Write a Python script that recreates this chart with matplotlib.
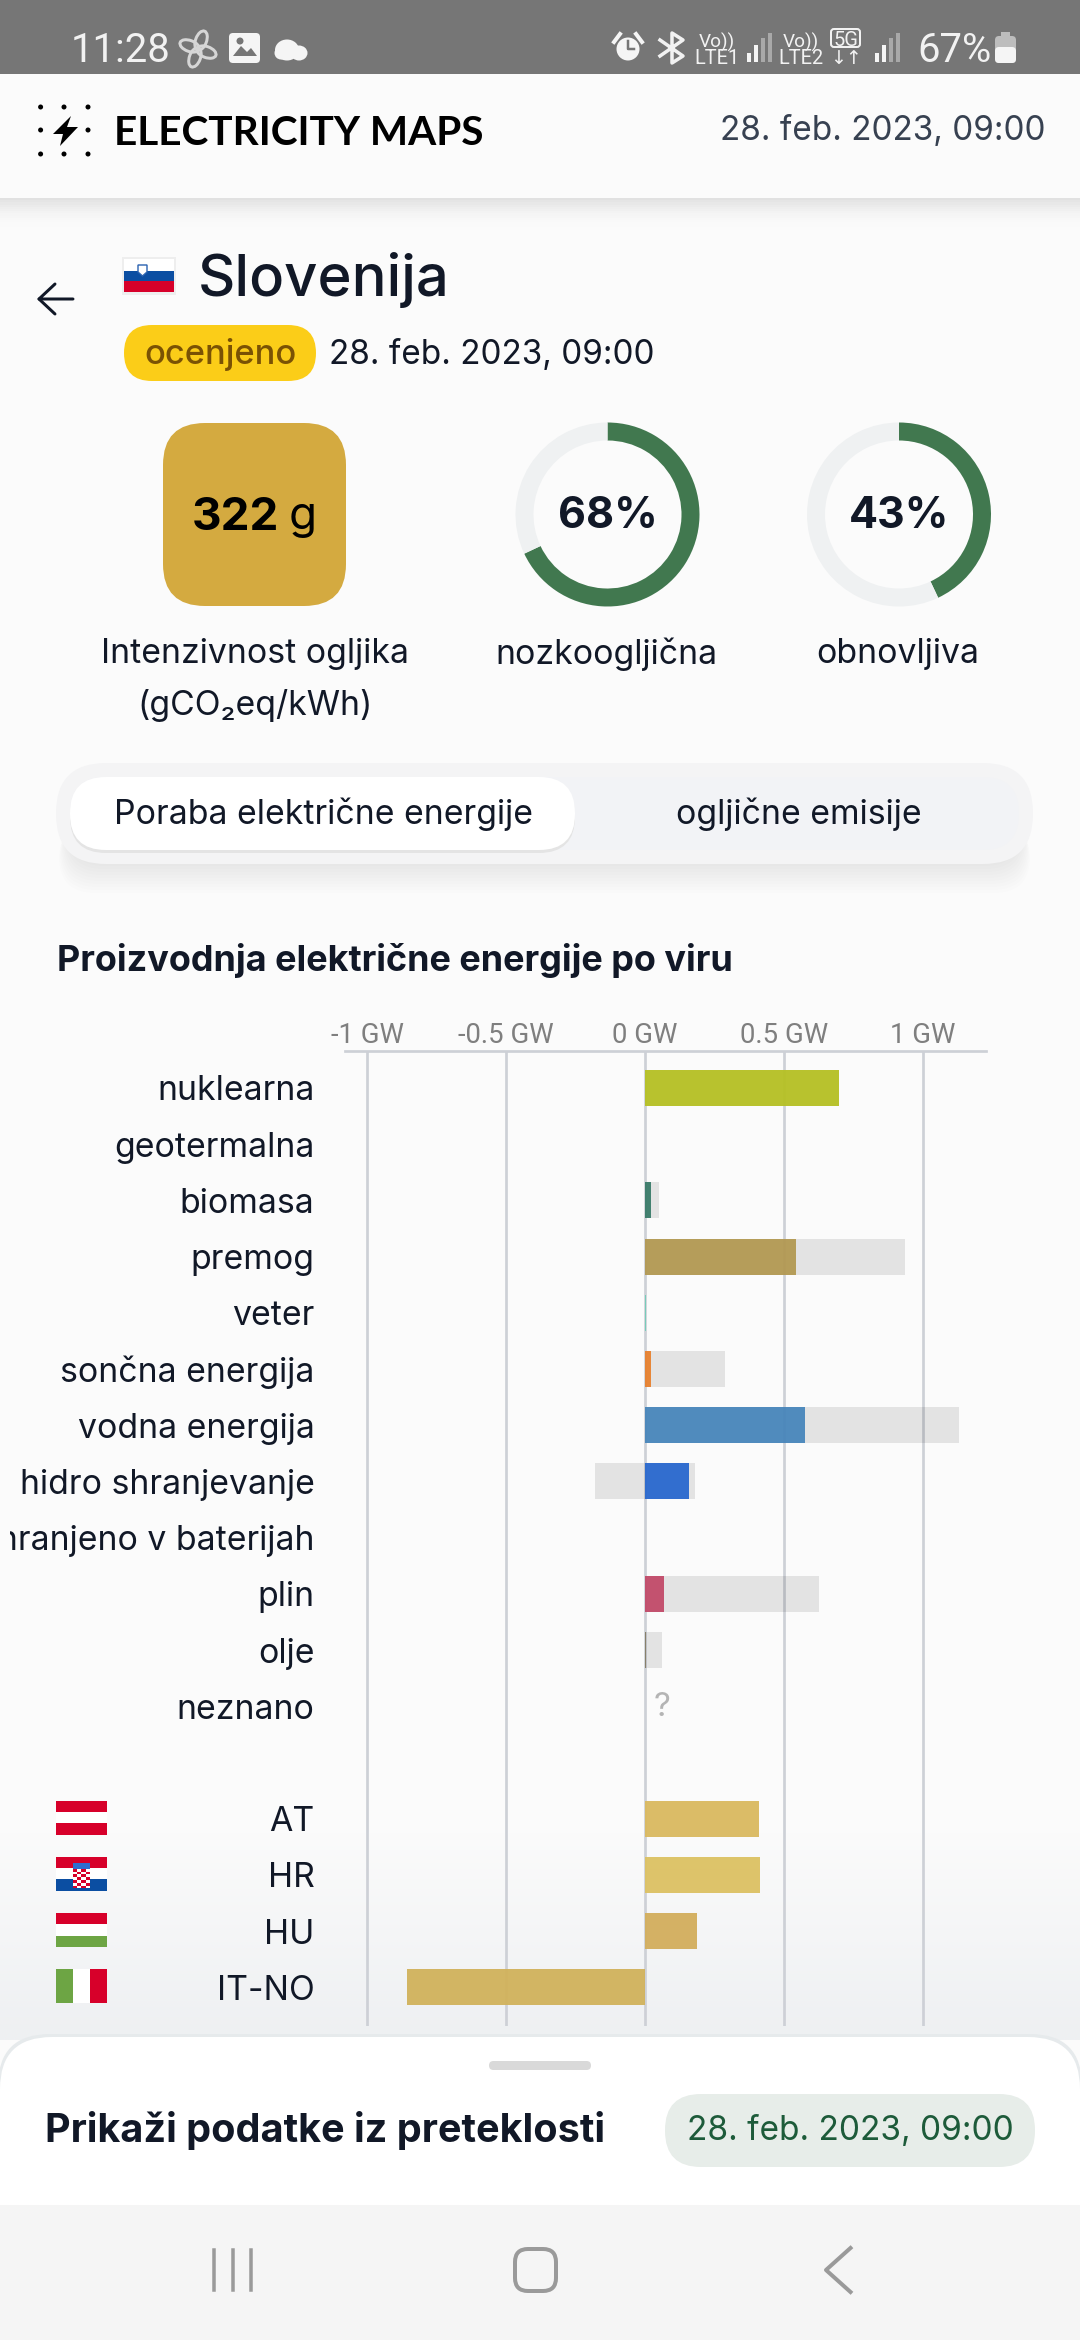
import numpy as np
import matplotlib
matplotlib.use('Agg')
import matplotlib.pyplot as plt
from matplotlib.patches import FancyBboxPatch, Rectangle, Ellipse, Polygon
from matplotlib.transforms import Bbox

plt.rcParams['font.family'] = ['Inter', 'DejaVu Sans']

# Proizvodnja po viru [GW]
sources = ['nuklearna', 'geotermalna', 'biomasa', 'premog', 'veter', 'sončna energija',
           'vodna energija', 'hidro shranjevanje', 'shranjeno v baterijah', 'plin', 'olje', 'neznano']
production = [0.697, 0, 0.021, 0.543, 0.003, 0.021, 0.575, 0.157, 0, 0.069, 0.002, 0]
capacity_pos = [0.697, 0, 0.05, 0.935, 0.003, 0.287, 1.129, 0.18, 0, 0.627, 0.062, 0]
capacity_neg = [0, 0, 0, 0, 0, 0, 0, -0.18, 0, 0, 0, 0]
source_colors = ['#b6c124', '#ffffff', '#3a7c6a', '#b39953', '#74cdb9', '#e8812f',
                 '#4886bb', '#2868ce', '#ffffff', '#c24a69', '#867d66', '#ffffff']

# Izmenjava s sosedi [GW]
zones = ['AT', 'HR', 'HU', 'IT-NO']
exchange = [0.411, 0.414, 0.188, -0.855]
zone_colors = ['#dab95f', '#dcc162', '#d3ae5c', '#d1b25b']

xticks = [-1, -0.5, 0, 0.5, 1]
xtick_labels = ['-1 GW', '-0.5 GW', '0 GW', '0.5 GW', '1 GW']

date_text = '28. feb. 2023, 09:00'
low_carbon = [68, 32]
renewable = [43, 57]

DARK = '#111827'
BG = '#fbfbfb'
W, H = 1080, 2340


def pt(px):
    return px * 0.72


fig = plt.figure(figsize=(10.8, 23.4), dpi=100, facecolor=BG)

# Ozadje in vsi elementi vmesnika v pikslih
ui = fig.add_axes([0, 0, 1, 1], zorder=1)
ui.set_xlim(0, W)
ui.set_ylim(H, 0)
ui.axis('off')


def box(x0, y0, x1, y1, r, color, z=2, alpha=1, ec='none', lw=0):
    p = FancyBboxPatch((x0 + r, y0 + r), x1 - x0 - 2 * r, y1 - y0 - 2 * r,
                       boxstyle='round,pad=%f,rounding_size=%f' % (r, r),
                       fc=color, ec=ec, lw=lw, alpha=alpha, zorder=z)
    ui.add_patch(p)
    return p


def rect(x0, y0, x1, y1, color, z=3, alpha=1):
    ui.add_patch(Rectangle((x0, y0), x1 - x0, y1 - y0, fc=color, ec='none', zorder=z, alpha=alpha))


def txt(x, y, s, px, color=DARK, ha='center', weight='normal', family=None, z=5):
    return ui.text(x, y, s, fontsize=pt(px), color=color, ha=ha, va='center_baseline',
                   fontweight=weight, zorder=z, family=family or ['Inter', 'DejaVu Sans'])


# spodnji prehod ozadja
grad = np.linspace(0, 1, 64).reshape(-1, 1, 1) * (np.array([238, 240, 242]) - np.array([251, 251, 251])) + 251
ui.imshow(grad.astype(np.uint8), extent=(0, W, 2040, 1830), aspect='auto', zorder=0)
ui.set_xlim(0, W)
ui.set_ylim(H, 0)

# statusna vrstica
rect(0, 0, W, 74, '#767676')
txt(71, 47, '11:28', 40, '#f2f2f2', ha='left', family='Roboto')
for ang in [20, 110, 200, 290]:
    a = np.radians(ang)
    ui.add_patch(Ellipse((198 + 9 * np.cos(a), 49 + 9 * np.sin(a)), 20, 11, angle=ang, fc='none',
                         ec='#d6d6d6', lw=pt(3), zorder=4))
box(229, 33, 260, 63, 4, '#f5f5f5', z=4)
ui.add_patch(Polygon([(233, 56), (241, 46), (247, 52), (251, 48), (257, 56)], fc='#767676', ec='none', zorder=5))
ui.add_patch(Ellipse((240, 41), 7, 7, fc='#767676', ec='none', zorder=5))
for cx, cy, w_, h_ in [(287, 50, 24, 21), (299, 53, 17, 15), (281, 53, 13, 13)]:
    ui.add_patch(Ellipse((cx, cy), w_, h_, fc='#f5f5f5', ec='none', zorder=4))

ui.add_patch(Ellipse((628, 49), 23, 23, fc='#f5f5f5', ec='none', zorder=4))
ui.plot([628, 628, 634], [41, 49, 49], color='#767676', lw=pt(2.5), zorder=5)
ui.plot([614, 620], [42, 34], color='#f5f5f5', lw=pt(4), zorder=4)
ui.plot([636, 642], [34, 42], color='#f5f5f5', lw=pt(4), zorder=4)
ui.plot([660, 683, 672, 672, 683, 660], [40, 56, 63, 33, 40, 56], color='#f2f2f2', lw=pt(3.5), zorder=4)
for x0, a, b in [(717, 'Vo))', 'LTE1'), (801, 'Vo))', 'LTE2')]:
    txt(x0, 40, a, 19, '#f2f2f2', family='Roboto')
    txt(x0, 57, b, 20, '#f2f2f2', family='Roboto')
for x0 in [747, 875]:
    for i, top in enumerate([53, 45, 38, 33]):
        rect(x0 + i * 7, top, x0 + i * 7 + 4, 62, '#f5f5f5' if i < 2 else '#a9a9a9', z=4)
ui.add_patch(FancyBboxPatch((831, 29), 29, 18, boxstyle='round,pad=0,rounding_size=3', fc='none',
                            ec='#f2f2f2', lw=pt(2), zorder=4))
txt(845.5, 38.5, '5G', 20, '#f2f2f2', family='Roboto')
txt(845.5, 57, '↓↑', 19, '#f2f2f2', family='DejaVu Sans')
txt(917, 47, '67%', 40, '#f2f2f2', ha='left', family='Roboto')
box(995, 36, 1016, 63, 4, '#bdbdbd', z=4)
box(995, 47, 1016, 63, 4, '#f5f5f5', z=5)
rect(1001, 32, 1010, 37, '#bdbdbd', z=4)

# glava
for i in range(14):
    rect(0, 198 + i * 2.2, W, 198 + (i + 1) * 2.2, '#000000', z=1, alpha=0.10 * (1 - i / 14) ** 2)
for x0 in [40.6, 64, 88]:
    for y0 in [107, 130, 154]:
        if not (x0 == 64 and y0 == 130):
            ui.add_patch(Ellipse((x0, y0), 5, 5, fc='black', ec='none', zorder=4))
ui.add_patch(Polygon([(71, 116), (53, 134), (63, 134), (60, 146), (78, 127), (67, 127)],
                     fc='black', ec='none', zorder=4))
txt(114, 130, 'ELECTRICITY MAPS', 40.5, 'black', ha='left', weight='bold', family='Lato')
txt(1046, 128, date_text, 33.3, '#374151', ha='right')

# naslov države
rect(122, 257, 176, 295, '#000000', z=2, alpha=0.05)
rect(124, 259, 174, 271, '#ffffff', z=3)
rect(124, 271, 174, 281, '#0b4ea2', z=3)
rect(124, 281, 174, 292, '#d7002a', z=3)
ui.add_patch(Polygon([(138, 265), (147, 265), (147, 272), (142.5, 276), (138, 272)], fc='#ffffff', ec='#2a62b0', lw=1, zorder=4))
ui.plot([73, 39, 55], [299, 299, 284], color=DARK, lw=pt(3), zorder=4, solid_capstyle='round')
ui.plot([39, 55], [299, 314], color=DARK, lw=pt(3), zorder=4, solid_capstyle='round')
txt(198, 274, 'Slovenija', 58, ha='left', weight='medium')
box(124, 325, 316, 381, 28, '#fbcd18')
txt(220, 351, 'ocenjeno', 34.5, '#7a5204', weight='medium')
txt(329, 351, date_text, 33.3, ha='left')

# kazalniki
box(163, 423, 346, 606, 42, '#d4aa40')
txt(192, 513, '322', 45.8, 'black', ha='left', weight='bold')
txt(289, 513, 'g', 45.8, 'black', ha='left')
txt(255, 651, 'Intenzivnost ogljika', 33.8)
txt(255, 702, '(gCO₂eq/kWh)', 33.8)

for cx, vals, label in [(607.5, low_carbon, 'nozkoogljična'), (899, renewable, 'obnovljiva')]:
    dax = fig.add_axes([(cx - 92) / W, 1 - (514.5 + 92) / H, 184 / W, 184 / H], zorder=2)
    dax.pie(vals, colors=['#41784f', '#eff1f2'], startangle=90, counterclock=False, radius=1,
            wedgeprops={'width': 18 / 92})
    dax.set_xlim(-1, 1)
    dax.set_ylim(-1, 1)
    dax.text(0, -0.02, '%d%%' % vals[0], ha='center', va='center', fontsize=pt(43), color=DARK, fontweight='bold')
    txt(cx - 1, 651, label, 33.8)

# preklopnik
for i in range(12):
    box(70 - i, 790 + i * 3, 1019 + i, 860 + i * 3, 36, '#000000', z=1, alpha=0.007)
box(56, 763, 1033, 864, 50, '#f4f4f5', z=2)
box(70, 777, 1019, 850, 36, '#f2f3f6', z=3)
box(70, 779, 575, 853, 36, '#e4e4e4', z=3)
box(70, 777, 575, 850, 36, '#ffffff', z=4)
txt(323, 811, 'Poraba električne energije', 33.8)
txt(799, 811, 'ogljične emisije', 33.8)

txt(57, 957, 'Proizvodnja električne energije po viru', 36, ha='left', weight='bold')

# graf
ax_x0, ax_x1, ax_y0, ax_y1 = 344.6, 985.7, 1051, 2025.5
zero_px, gw_px, first_row, row_px = 645.0, 278.0, 1088.0, 56.2
ax = fig.add_axes([ax_x0 / W, 1 - ax_y1 / H, (ax_x1 - ax_x0) / W, (ax_y1 - ax_y0) / H], zorder=3)
ax.patch.set_alpha(0)
ax.set_xlim((ax_x0 - zero_px) / gw_px, (ax_x1 - zero_px) / gw_px)
ax.set_ylim((ax_y1 - first_row) / row_px, (ax_y0 - first_row) / row_px)

rows = np.arange(len(sources))
zone_rows = np.arange(len(zones)) + len(sources) + 1
bar_h = 36 / row_px

ax.barh(rows, capacity_pos, height=bar_h, color='black', alpha=0.095, zorder=3, linewidth=0)
ax.barh(rows, capacity_neg, height=bar_h, color='black', alpha=0.095, zorder=3, linewidth=0)
ax.barh(rows, production, height=bar_h, color=source_colors, alpha=0.95, zorder=4, linewidth=0)
ax.barh(zone_rows, exchange, height=bar_h, color=zone_colors, alpha=0.95, zorder=4, linewidth=0)
ax.text(0.03, rows[-1] + 0.03, '?', color='#b4b4b4', fontsize=pt(33), ha='left', va='center', zorder=5)

ax.xaxis.tick_top()
ax.set_xticks(xticks)
ax.set_xticklabels(xtick_labels, fontsize=pt(27.5), color='#7f7f7f', family='Roboto')
ax.tick_params(axis='x', length=0, pad=pt(2))
ax.grid(axis='x', color='#cdd0d6', linewidth=pt(2.7), zorder=1)
ax.set_axisbelow(True)
ax.set_yticks(list(rows) + list(zone_rows))
ax.set_yticklabels(sources + zones, fontsize=pt(33.8), color=DARK)
ax.tick_params(axis='y', length=0, pad=pt(30))
for s in ['left', 'right', 'bottom']:
    ax.spines[s].set_visible(False)
ax.spines['top'].set_color('#cdd0d6')
ax.spines['top'].set_linewidth(pt(2.7))

# predolg napis je na levi odrezan
for lab in ax.get_yticklabels():
    lab.set_clip_on(True)
    lab.set_clip_box(Bbox([[10, 0], [W, H]]))

# zastave
flag_y = [first_row + row_px * r for r in zone_rows]
fx0, fx1 = 56, 107
for name, yc in zip(zones, flag_y):
    t, b = yc - 18, yc + 16
    third = (b - t) / 3
    if name == 'IT-NO':
        xs = (fx1 - fx0) / 3
        rect(fx0, t, fx0 + xs, b, '#6da544')
        rect(fx0 + xs, t, fx0 + 2 * xs, b, '#ffffff')
        rect(fx0 + 2 * xs, t, fx1, b, '#d7002a')
        continue
    cols = {'AT': ['#d7002a', '#ffffff', '#d7002a'], 'HR': ['#d7002a', '#ffffff', '#0b4ea2'],
            'HU': ['#d7002a', '#ffffff', '#6da544']}[name]
    for i, c in enumerate(cols):
        rect(fx0, t + i * third, fx1, t + (i + 1) * third, c)
    if name == 'HR':
        rect(73, t + 6, 90, t + 12, '#2f6dd0', z=4)
        for i in range(4):
            for j in range(7):
                rect(73 + i * 4.2, t + 12 + j * 2.8, 77.2 + i * 4.2, t + 14.8 + j * 2.8,
                     '#d7002a' if (i + j) % 2 == 0 else '#ffffff', z=4)

# spodnja plošča
box(-2, 2034, 1082, 2300, 52, '#e6eaec', z=5)
box(0, 2037, 1080, 2300, 52, '#ffffff', z=6)
box(489, 2061, 591, 2070, 4.5, '#d9d9d9', z=7)
txt(45, 2126, 'Prikaži podatke iz preteklosti', 39.6, ha='left', weight='bold', z=8)
box(665, 2094, 1035, 2167, 36, '#e7ede9', z=7)
txt(850, 2128, date_text, 33.4, '#1d5b3a', z=8)

# navigacija
rect(0, 2205, W, H, '#f5f5f5', z=9)
for x0 in [213.5, 233, 251]:
    ui.plot([x0, x0], [2250, 2290], color='#9a9a9a', lw=pt(3.5), zorder=10)
box(515, 2249, 556, 2291, 13, 'none', z=10, ec='#9a9a9a', lw=pt(4))
ui.plot([850.5, 826, 850.5], [2248, 2270, 2292], color='#9a9a9a', lw=pt(4), zorder=10)

fig.savefig('out.png', dpi=100, facecolor=BG)
